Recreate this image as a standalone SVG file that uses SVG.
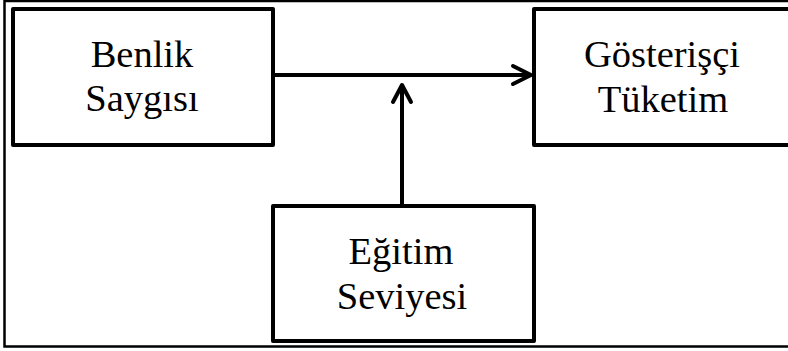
<svg xmlns="http://www.w3.org/2000/svg" width="788" height="351" viewBox="0 0 788 351">
<style>
.box{fill:#fff;stroke:#000;stroke-width:4;stroke-linejoin:round}
.t{font-family:"Liberation Serif","Times New Roman",serif;font-size:38.5px;fill:#000;text-anchor:middle}
.c{fill:none;stroke:#000;stroke-width:4}
</style>
<rect x="0" y="0" width="788" height="351" fill="#fff"/>
<rect x="4.5" y="1" width="800" height="345.5" fill="none" stroke="#000" stroke-width="2.5"/>
<g id="benlik">
<rect class="box" x="13" y="9" width="260" height="136"/>
<text class="t" x="142" y="67">Benlik</text>
<text class="t" x="142" y="111">Saygısı</text>
</g>
<g id="gosterisci">
<rect class="box" x="534" y="9" width="258" height="136"/>
<text class="t" x="662" y="67">Gösterişçi</text>
<text class="t" x="663" y="112">Tüketim</text>
</g>
<g id="egitim">
<rect class="box" x="273" y="206" width="261" height="135"/>
<text class="t" x="401" y="264">Eğitim</text>
<text class="t" x="402" y="309">Seviyesi</text>
</g>
<g id="connectors">
<line class="c" x1="273" y1="75" x2="531" y2="75"/>
<polyline class="c" points="513,66 531,75 513,84" stroke-linecap="round" stroke-linejoin="round"/>
<line class="c" x1="402" y1="206" x2="402" y2="85"/>
<polyline class="c" points="393,102 402,85 411,102" stroke-linecap="round" stroke-linejoin="round"/>
</g>
</svg>
